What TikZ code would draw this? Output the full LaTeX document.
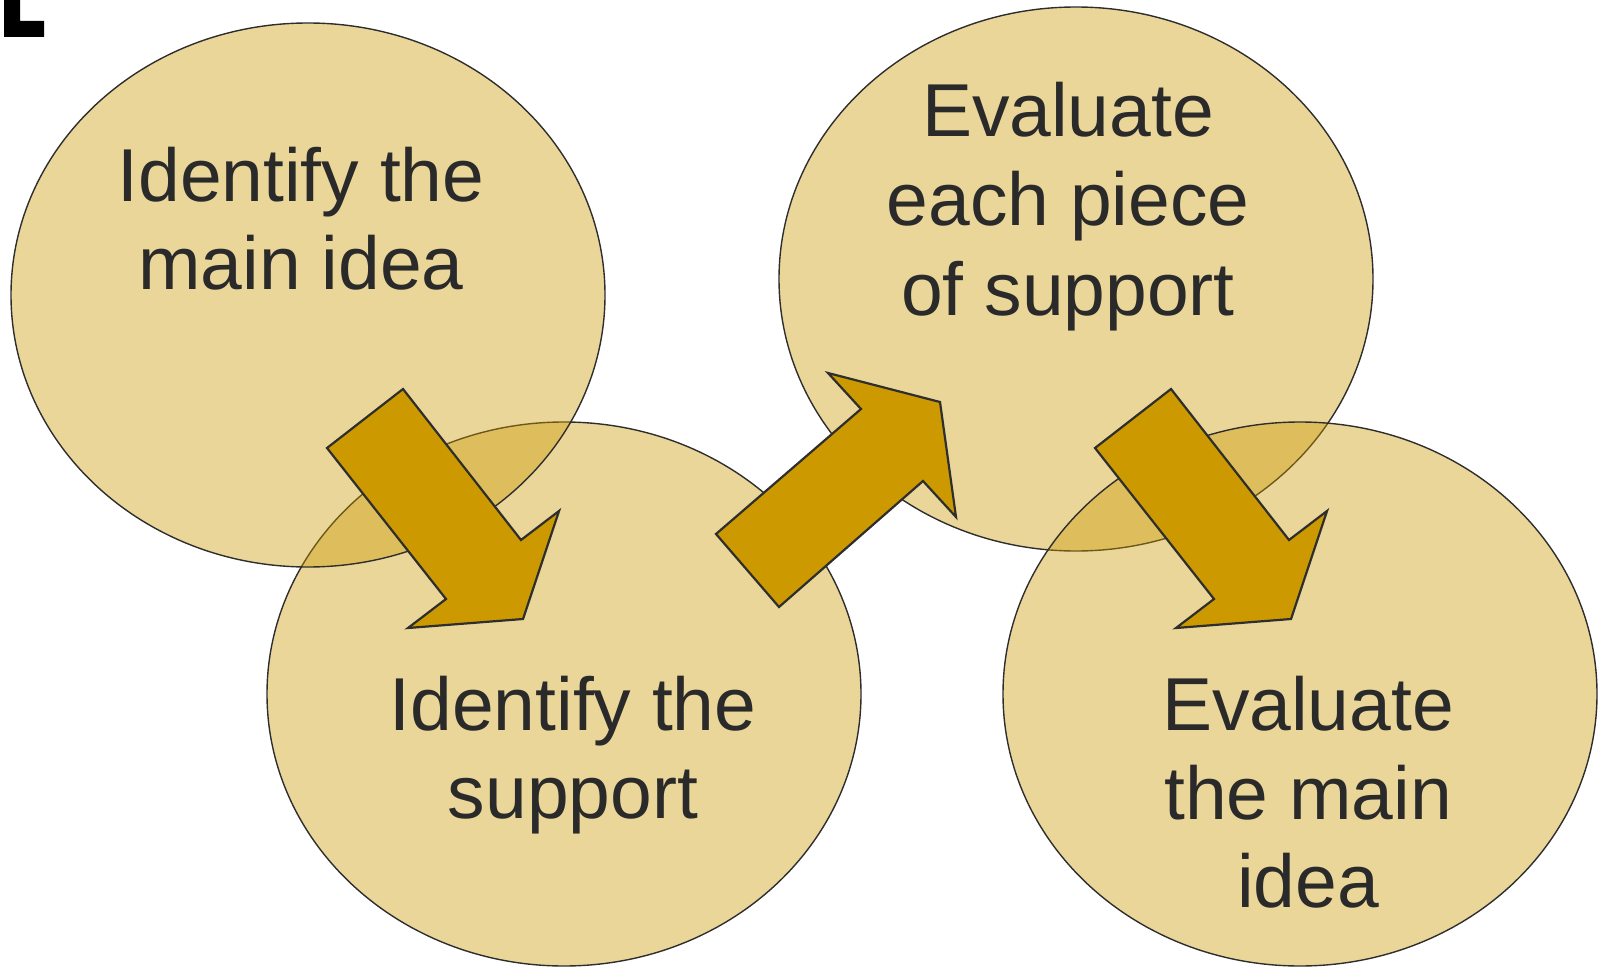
\documentclass[tikz,border=0pt]{standalone}
\usepackage{fontspec}
\setmainfont{Liberation Sans}
\usetikzlibrary{shapes.geometric}
\definecolor{gold}{HTML}{CC9900}
\definecolor{ink}{HTML}{2A2A2A}
\definecolor{edge}{HTML}{2E2E2E}
\tikzset{
  bubble/.style={ellipse, draw=edge, line width=1.4pt, fill=gold, fill opacity=0.4,
    draw opacity=1, minimum width=594pt, minimum height=544pt, inner sep=0pt},
  blockarrow/.style={draw=edge, line width=2.2pt, fill=gold, line join=miter},
  txt/.style={font=\fontsize{75}{88}\selectfont, text=ink, inner sep=0pt, anchor=base},
}
\begin{document}
\begin{tikzpicture}[x=1pt,y=-1pt]
\useasboundingbox (0,0) rectangle (1598,968);
% corner mark
\fill[black] (4,0) -- (20,0) -- (20,21) -- (44,21) -- (44,37) -- (4,37) -- cycle;
% bubbles
\node[bubble] (e2) at (564,694) {};
\node[bubble] (e1) at (308,295) {};
\node[bubble] (e3) at (1076,279) {};
\node[bubble] (e4) at (1300,694) {};
% texts
\node[txt] (t1a) at (301,202) {Identify the};
\node[txt] (t1b) at (301,290) {main idea};
\node[txt] (t2a) at (573,730) {Identify the};
\node[txt] (t2b) at (573,818) {support};
\node[txt] (t3a) at (1068,137) {Evaluate};
\node[txt] (t3b) at (1068,226) {each piece};
\node[txt] (t3c) at (1068,316) {of support};
\node[txt] (t4a) at (1308,730) {Evaluate};
\node[txt] (t4b) at (1308,819) {the main};
\node[txt] (t4c) at (1308,907) {idea};
% block arrows
\draw[blockarrow] (403,389) -- (521,540) -- (559,511) -- (523,619) -- (408,628) -- (446,599) -- (327,448) -- cycle;
\draw[blockarrow] (716,534) -- (861,409) -- (828,373) -- (940,402) -- (956,517) -- (923,481) -- (779,607) -- cycle;
\draw[blockarrow] (1171,389) -- (1289,540) -- (1327,511) -- (1291,619) -- (1176,628) -- (1214,599) -- (1095,448) -- cycle;
\end{tikzpicture}
\end{document}
